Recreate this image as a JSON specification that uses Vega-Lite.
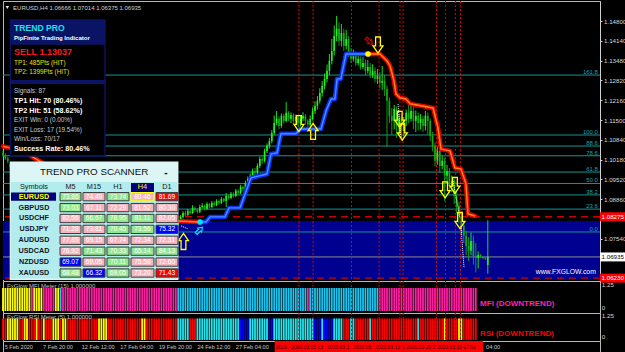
{
"$schema": "https://vega.github.io/schema/vega-lite/v6.json",
"background": "#000000",
"padding": 0,
"spacing": 0,
"bounds": "flush",
"config": {
 "view": {"stroke": "#b8b8b8", "strokeWidth": 1},
 "axis": {"labelFont": "Liberation Sans", "labelFontSize": 6.2, "labelColor": "#d8d8d8", "domainColor": "#d0d0d0", "tickColor": "#d0d0d0", "tickSize": 2, "labelPadding": 1.5, "grid": false},
 "text": {"font": "Liberation Sans"},
 "legend": {"disable": true}
},
"resolve": {"scale": {"color": "independent"}},
"datasets": {
 "bars": [
{"t":0,"o":1.104,"h":1.1048,"l":1.1026,"c":1.1032,"m":"Y","r":"R"},
{"t":1,"o":1.1032,"h":1.1038,"l":1.1016,"c":1.1022,"m":"Y","r":"R"},
{"t":2,"o":1.1022,"h":1.1027,"l":1.1006,"c":1.1012,"m":"Y","r":"Y"},
{"t":3,"o":1.1,"h":1.1004,"l":1.0988,"c":1.0995,"m":"Y","r":"Y"},
{"t":4,"o":1.0995,"h":1.1001,"l":1.0984,"c":1.099,"m":"Y","r":"Y"},
{"t":5,"o":1.099,"h":1.1002,"l":1.0985,"c":1.0995,"m":"Y","r":"Y"},
{"t":6,"o":1.0995,"h":1.1004,"l":1.099,"c":1.1,"m":"Y","r":"Y"},
{"t":7,"o":1.1,"h":1.1003,"l":1.0984,"c":1.099,"m":"Y","r":"R"},
{"t":8,"o":1.099,"h":1.0995,"l":1.0979,"c":1.0985,"m":"Y","r":"R"},
{"t":9,"o":1.0985,"h":1.099,"l":1.0972,"c":1.0978,"m":"Y","r":"Y"},
{"t":10,"o":1.0978,"h":1.0992,"l":1.0973,"c":1.0986,"m":"Y","r":"Y"},
{"t":11,"o":1.0986,"h":1.099,"l":1.097,"c":1.0975,"m":"Y","r":"R"},
{"t":12,"o":1.0975,"h":1.098,"l":1.0962,"c":1.0968,"m":"M","r":"R"},
{"t":13,"o":1.0968,"h":1.0978,"l":1.0963,"c":1.0972,"m":"Y","r":"R"},
{"t":14,"o":1.0972,"h":1.0976,"l":1.0955,"c":1.096,"m":"Y","r":"Y"},
{"t":15,"o":1.096,"h":1.0965,"l":1.0949,"c":1.0955,"m":"Y","r":"R"},
{"t":16,"o":1.0955,"h":1.096,"l":1.0942,"c":1.0948,"m":"Y","r":"R"},
{"t":17,"o":1.0948,"h":1.0962,"l":1.0944,"c":1.0957,"m":"M","r":"Y"},
{"t":18,"o":1.0957,"h":1.096,"l":1.094,"c":1.0945,"m":"M","r":"R"},
{"t":19,"o":1.0945,"h":1.095,"l":1.0932,"c":1.0938,"m":"M","r":"R"},
{"t":20,"o":1.0938,"h":1.0949,"l":1.0934,"c":1.0944,"m":"M","r":"R"},
{"t":21,"o":1.0944,"h":1.0948,"l":1.0927,"c":1.0932,"m":"M","r":"Y"},
{"t":22,"o":1.0932,"h":1.0937,"l":1.092,"c":1.0925,"m":"Y","r":"Y"},
{"t":23,"o":1.0925,"h":1.0935,"l":1.0921,"c":1.093,"m":"Y","r":"Y"},
{"t":24,"o":1.093,"h":1.0933,"l":1.0913,"c":1.0918,"m":"C","r":"R"},
{"t":25,"o":1.0918,"h":1.0922,"l":1.0906,"c":1.0912,"m":"M","r":"Y"},
{"t":26,"o":1.0912,"h":1.0925,"l":1.0908,"c":1.092,"m":"M","r":"Y"},
{"t":27,"o":1.092,"h":1.0923,"l":1.09,"c":1.0905,"m":"M","r":"R"},
{"t":28,"o":1.0905,"h":1.091,"l":1.0893,"c":1.0898,"m":"M","r":"R"},
{"t":29,"o":1.0898,"h":1.0909,"l":1.0894,"c":1.0904,"m":"M","r":"R"},
{"t":30,"o":1.0904,"h":1.0907,"l":1.0885,"c":1.089,"m":"M","r":"R"},
{"t":31,"o":1.089,"h":1.0895,"l":1.0879,"c":1.0884,"m":"M","r":"R"},
{"t":32,"o":1.0884,"h":1.0897,"l":1.088,"c":1.0892,"m":"M","r":"R"},
{"t":33,"o":1.0892,"h":1.0895,"l":1.0875,"c":1.088,"m":"M","r":"R"},
{"t":34,"o":1.088,"h":1.0885,"l":1.0869,"c":1.0874,"m":"M","r":"R"},
{"t":35,"o":1.0874,"h":1.0883,"l":1.087,"c":1.0878,"m":"M","r":"R"},
{"t":36,"o":1.0878,"h":1.0881,"l":1.0861,"c":1.0866,"m":"M","r":"R"},
{"t":37,"o":1.0866,"h":1.0877,"l":1.0862,"c":1.0872,"m":"M","r":"R"},
{"t":38,"o":1.0872,"h":1.0875,"l":1.0855,"c":1.086,"m":"M","r":"R"},
{"t":39,"o":1.086,"h":1.0865,"l":1.085,"c":1.0855,"m":"M","r":"R"},
{"t":40,"o":1.0855,"h":1.0867,"l":1.0851,"c":1.0862,"m":"M","r":"Y"},
{"t":41,"o":1.0862,"h":1.0865,"l":1.0845,"c":1.085,"m":"M","r":"Y"},
{"t":42,"o":1.085,"h":1.0855,"l":1.0841,"c":1.0846,"m":"M","r":"Y"},
{"t":43,"o":1.0846,"h":1.0857,"l":1.0842,"c":1.0852,"m":"M","r":"Y"},
{"t":44,"o":1.0852,"h":1.0855,"l":1.0837,"c":1.0842,"m":"M","r":"R"},
{"t":45,"o":1.0842,"h":1.0847,"l":1.0831,"c":1.0836,"m":"M","r":"R"},
{"t":46,"o":1.0836,"h":1.0849,"l":1.0832,"c":1.0844,"m":"M","r":"R"},
{"t":47,"o":1.0844,"h":1.0847,"l":1.0825,"c":1.083,"m":"M","r":"R"},
{"t":48,"o":1.083,"h":1.0843,"l":1.0826,"c":1.0838,"m":"M","r":"R"},
{"t":49,"o":1.0838,"h":1.0841,"l":1.0821,"c":1.0826,"m":"M","r":"R"},
{"t":50,"o":1.0826,"h":1.0839,"l":1.0822,"c":1.0834,"m":"M","r":"R"},
{"t":51,"o":1.0834,"h":1.0837,"l":1.0817,"c":1.0822,"m":"M","r":"R"},
{"t":52,"o":1.0822,"h":1.0827,"l":1.0811,"c":1.0816,"m":"M","r":"R"},
{"t":53,"o":1.0816,"h":1.0829,"l":1.0812,"c":1.0824,"m":"M","r":"R"},
{"t":54,"o":1.0824,"h":1.0827,"l":1.0807,"c":1.0812,"m":"M","r":"R"},
{"t":55,"o":1.0812,"h":1.0817,"l":1.0801,"c":1.0806,"m":"M","r":"R"},
{"t":56,"o":1.0806,"h":1.0819,"l":1.0802,"c":1.0814,"m":"M","r":"R"},
{"t":57,"o":1.0814,"h":1.0817,"l":1.0795,"c":1.08,"m":"M","r":"R"},
{"t":58,"o":1.08,"h":1.0813,"l":1.0796,"c":1.0808,"m":"M","r":"Y"},
{"t":59,"o":1.0808,"h":1.0811,"l":1.079,"c":1.0795,"m":"M","r":"Y"},
{"t":60,"o":1.0795,"h":1.08,"l":1.0785,"c":1.079,"m":"M","r":"R"},
{"t":61,"o":1.079,"h":1.0803,"l":1.0786,"c":1.0798,"m":"M","r":"R"},
{"t":62,"o":1.0798,"h":1.0801,"l":1.0781,"c":1.0786,"m":"M","r":"R"},
{"t":63,"o":1.0786,"h":1.0797,"l":1.0782,"c":1.0792,"m":"M","r":"R"},
{"t":64,"o":1.0792,"h":1.0795,"l":1.0778,"c":1.0782,"m":"M","r":"R"},
{"t":65,"o":1.0782,"h":1.0793,"l":1.0779,"c":1.0788,"m":"M","r":"R"},
{"t":66,"o":1.0788,"h":1.0791,"l":1.0777,"c":1.078,"m":"M","r":"R"},
{"t":67,"o":1.078,"h":1.0795,"l":1.0778,"c":1.079,"m":"M","r":"R"},
{"t":68,"o":1.079,"h":1.0801,"l":1.0786,"c":1.0796,"m":"M","r":"R"},
{"t":69,"o":1.0796,"h":1.0799,"l":1.0784,"c":1.0788,"m":"M","r":"R"},
{"t":70,"o":1.0788,"h":1.0805,"l":1.0785,"c":1.08,"m":"M","r":"R"},
{"t":71,"o":1.08,"h":1.0813,"l":1.0797,"c":1.0808,"m":"M","r":"R"},
{"t":72,"o":1.0808,"h":1.0811,"l":1.0798,"c":1.0802,"m":"M","r":"R"},
{"t":73,"o":1.0802,"h":1.0819,"l":1.0799,"c":1.0815,"m":"C","r":"C"},
{"t":74,"o":1.0815,"h":1.0833,"l":1.0811,"c":1.0827,"m":"C","r":"C"},
{"t":75,"o":1.0827,"h":1.0846,"l":1.0822,"c":1.084,"m":"C","r":"C"},
{"t":76,"o":1.084,"h":1.0848,"l":1.0829,"c":1.0834,"m":"C","r":"C"},
{"t":77,"o":1.0834,"h":1.0853,"l":1.083,"c":1.0847,"m":"C","r":"C"},
{"t":78,"o":1.0847,"h":1.0851,"l":1.0835,"c":1.084,"m":"C","r":"R"},
{"t":79,"o":1.084,"h":1.0866,"l":1.0837,"c":1.0857,"m":"C","r":"R"},
{"t":80,"o":1.0857,"h":1.0862,"l":1.0844,"c":1.085,"m":"C","r":"R"},
{"t":81,"o":1.085,"h":1.0856,"l":1.0838,"c":1.0844,"m":"C","r":"C"},
{"t":82,"o":1.0844,"h":1.0868,"l":1.084,"c":1.086,"m":"C","r":"C"},
{"t":83,"o":1.086,"h":1.0872,"l":1.0855,"c":1.0864,"m":"C","r":"C"},
{"t":84,"o":1.0864,"h":1.0868,"l":1.0849,"c":1.0854,"m":"C","r":"C"},
{"t":85,"o":1.0854,"h":1.0876,"l":1.085,"c":1.087,"m":"C","r":"C"},
{"t":86,"o":1.087,"h":1.0874,"l":1.0855,"c":1.086,"m":"C","r":"C"},
{"t":87,"o":1.086,"h":1.088,"l":1.0856,"c":1.0874,"m":"C","r":"C"},
{"t":88,"o":1.0874,"h":1.0879,"l":1.0862,"c":1.0867,"m":"C","r":"C"},
{"t":89,"o":1.0867,"h":1.0886,"l":1.0863,"c":1.088,"m":"C","r":"C"},
{"t":90,"o":1.088,"h":1.0885,"l":1.0868,"c":1.0874,"m":"C","r":"C"},
{"t":91,"o":1.0874,"h":1.0893,"l":1.087,"c":1.0887,"m":"C","r":"C"},
{"t":92,"o":1.0887,"h":1.0891,"l":1.0875,"c":1.088,"m":"C","r":"C"},
{"t":93,"o":1.088,"h":1.0907,"l":1.086,"c":1.0897,"m":"C","r":"C"},
{"t":94,"o":1.0897,"h":1.0902,"l":1.0884,"c":1.089,"m":"C","r":"C"},
{"t":95,"o":1.089,"h":1.091,"l":1.0886,"c":1.0904,"m":"C","r":"C"},
{"t":96,"o":1.0904,"h":1.0909,"l":1.0891,"c":1.0897,"m":"C","r":"C"},
{"t":97,"o":1.0897,"h":1.092,"l":1.0893,"c":1.0914,"m":"C","r":"C"},
{"t":98,"o":1.0914,"h":1.0919,"l":1.09,"c":1.0907,"m":"C","r":"C"},
{"t":99,"o":1.0907,"h":1.0934,"l":1.0903,"c":1.0927,"m":"C","r":"B"},
{"t":100,"o":1.0927,"h":1.0932,"l":1.0912,"c":1.092,"m":"C","r":"B"},
{"t":101,"o":1.092,"h":1.0948,"l":1.0916,"c":1.094,"m":"C","r":"B"},
{"t":102,"o":1.094,"h":1.0962,"l":1.0934,"c":1.0954,"m":"C","r":"B"},
{"t":103,"o":1.0954,"h":1.0972,"l":1.0948,"c":1.0964,"m":"C","r":"C"},
{"t":104,"o":1.0964,"h":1.0988,"l":1.0958,"c":1.098,"m":"C","r":"C"},
{"t":105,"o":1.098,"h":1.099,"l":1.0966,"c":1.0974,"m":"C","r":"C"},
{"t":106,"o":1.0974,"h":1.1005,"l":1.097,"c":1.0997,"m":"C","r":"C"},
{"t":107,"o":1.0997,"h":1.1028,"l":1.099,"c":1.102,"m":"C","r":"C"},
{"t":108,"o":1.102,"h":1.103,"l":1.1004,"c":1.1014,"m":"C","r":"C"},
{"t":109,"o":1.1014,"h":1.1055,"l":1.1008,"c":1.1047,"m":"C","r":"C"},
{"t":110,"o":1.1047,"h":1.1072,"l":1.104,"c":1.1064,"m":"C","r":"C"},
{"t":111,"o":1.1064,"h":1.109,"l":1.1055,"c":1.108,"m":"C","r":"B"},
{"t":112,"o":1.108,"h":1.1116,"l":1.1072,"c":1.1107,"m":"C","r":"B"},
{"t":113,"o":1.1107,"h":1.1165,"l":1.11,"c":1.114,"m":"C","r":"C"},
{"t":114,"o":1.114,"h":1.118,"l":1.1132,"c":1.1154,"m":"C","r":"C"},
{"t":115,"o":1.1154,"h":1.1162,"l":1.112,"c":1.113,"m":"C","r":"C"},
{"t":116,"o":1.113,"h":1.1172,"l":1.1124,"c":1.1164,"m":"C","r":"C"},
{"t":117,"o":1.1164,"h":1.117,"l":1.1138,"c":1.1147,"m":"C","r":"C"},
{"t":118,"o":1.1147,"h":1.121,"l":1.1142,"c":1.1174,"m":"C","r":"C"},
{"t":119,"o":1.1174,"h":1.118,"l":1.1146,"c":1.1154,"m":"C","r":"C"},
{"t":120,"o":1.1154,"h":1.1175,"l":1.114,"c":1.1167,"m":"C","r":"C"},
{"t":121,"o":1.1167,"h":1.1172,"l":1.1137,"c":1.1147,"m":"C","r":"C"},
{"t":122,"o":1.1147,"h":1.1168,"l":1.1132,"c":1.116,"m":"C","r":"C"},
{"t":123,"o":1.116,"h":1.1165,"l":1.1125,"c":1.114,"m":"C","r":"C"},
{"t":124,"o":1.114,"h":1.1164,"l":1.1128,"c":1.1154,"m":"C","r":"C"},
{"t":125,"o":1.1154,"h":1.1176,"l":1.1146,"c":1.1164,"m":"C","r":"C"},
{"t":126,"o":1.1164,"h":1.117,"l":1.1134,"c":1.1147,"m":"C","r":"C"},
{"t":127,"o":1.1147,"h":1.1152,"l":1.111,"c":1.1134,"m":"M","r":"C"},
{"t":128,"o":1.1134,"h":1.1165,"l":1.1126,"c":1.1154,"m":"C","r":"C"},
{"t":129,"o":1.1154,"h":1.1192,"l":1.1148,"c":1.118,"m":"C","r":"C"},
{"t":130,"o":1.118,"h":1.1212,"l":1.117,"c":1.1197,"m":"C","r":"B"},
{"t":131,"o":1.1197,"h":1.123,"l":1.1185,"c":1.1214,"m":"C","r":"B"},
{"t":132,"o":1.1214,"h":1.1256,"l":1.1205,"c":1.124,"m":"C","r":"B"},
{"t":133,"o":1.124,"h":1.128,"l":1.1228,"c":1.1264,"m":"C","r":"C"},
{"t":134,"o":1.1264,"h":1.1305,"l":1.1252,"c":1.1287,"m":"C","r":"B"},
{"t":135,"o":1.1287,"h":1.1335,"l":1.1275,"c":1.1314,"m":"C","r":"B"},
{"t":136,"o":1.1314,"h":1.137,"l":1.13,"c":1.1347,"m":"C","r":"B"},
{"t":137,"o":1.1347,"h":1.142,"l":1.1335,"c":1.138,"m":"C","r":"B"},
{"t":138,"o":1.138,"h":1.1465,"l":1.1365,"c":1.143,"m":"C","r":"C"},
{"t":139,"o":1.143,"h":1.1497,"l":1.1412,"c":1.1454,"m":"C","r":"C"},
{"t":140,"o":1.1454,"h":1.1475,"l":1.1398,"c":1.1414,"m":"C","r":"C"},
{"t":141,"o":1.1414,"h":1.147,"l":1.1395,"c":1.144,"m":"C","r":"C"},
{"t":142,"o":1.144,"h":1.1455,"l":1.138,"c":1.1397,"m":"C","r":"R"},
{"t":143,"o":1.1397,"h":1.145,"l":1.1385,"c":1.142,"m":"C","r":"R"},
{"t":144,"o":1.142,"h":1.143,"l":1.136,"c":1.1374,"m":"C","r":"R"},
{"t":145,"o":1.1374,"h":1.139,"l":1.134,"c":1.1354,"m":"C","r":"C"},
{"t":146,"o":1.1354,"h":1.1385,"l":1.1345,"c":1.1364,"m":"C","r":"C"},
{"t":147,"o":1.1364,"h":1.1378,"l":1.133,"c":1.134,"m":"C","r":"R"},
{"t":148,"o":1.134,"h":1.1372,"l":1.1332,"c":1.1354,"m":"C","r":"R"},
{"t":149,"o":1.1354,"h":1.1362,"l":1.1318,"c":1.1327,"m":"C","r":"R"},
{"t":150,"o":1.1327,"h":1.136,"l":1.132,"c":1.134,"m":"C","r":"R"},
{"t":151,"o":1.134,"h":1.1352,"l":1.13,"c":1.1314,"m":"C","r":"R"},
{"t":152,"o":1.1314,"h":1.135,"l":1.1305,"c":1.1327,"m":"C","r":"R"},
{"t":153,"o":1.1327,"h":1.134,"l":1.129,"c":1.13,"m":"C","r":"C"},
{"t":154,"o":1.13,"h":1.1336,"l":1.129,"c":1.1314,"m":"C","r":"R"},
{"t":155,"o":1.1314,"h":1.1325,"l":1.1275,"c":1.1287,"m":"C","r":"R"},
{"t":156,"o":1.1287,"h":1.132,"l":1.127,"c":1.1297,"m":"C","r":"R"},
{"t":157,"o":1.1297,"h":1.131,"l":1.1255,"c":1.1274,"m":"M","r":"R"},
{"t":158,"o":1.1274,"h":1.133,"l":1.125,"c":1.128,"m":"M","r":"R"},
{"t":159,"o":1.128,"h":1.13,"l":1.123,"c":1.1254,"m":"M","r":"R"},
{"t":160,"o":1.1254,"h":1.1265,"l":1.106,"c":1.1214,"m":"M","r":"R"},
{"t":161,"o":1.1214,"h":1.1225,"l":1.114,"c":1.1164,"m":"M","r":"R"},
{"t":162,"o":1.1164,"h":1.119,"l":1.11,"c":1.1147,"m":"M","r":"R"},
{"t":163,"o":1.1147,"h":1.12,"l":1.112,"c":1.1187,"m":"M","r":"R"},
{"t":164,"o":1.1187,"h":1.1195,"l":1.109,"c":1.113,"m":"M","r":"R"},
{"t":165,"o":1.113,"h":1.117,"l":1.11,"c":1.1154,"m":"M","r":"R"},
{"t":166,"o":1.1154,"h":1.1165,"l":1.108,"c":1.1114,"m":"M","r":"R"},
{"t":167,"o":1.1114,"h":1.116,"l":1.1095,"c":1.1147,"m":"M","r":"R"},
{"t":168,"o":1.1147,"h":1.1185,"l":1.113,"c":1.1174,"m":"M","r":"R"},
{"t":169,"o":1.1174,"h":1.12,"l":1.114,"c":1.1154,"m":"M","r":"R"},
{"t":170,"o":1.1154,"h":1.1207,"l":1.1145,"c":1.118,"m":"M","r":"R"},
{"t":171,"o":1.118,"h":1.1195,"l":1.112,"c":1.1147,"m":"M","r":"R"},
{"t":172,"o":1.1147,"h":1.1182,"l":1.111,"c":1.1164,"m":"M","r":"R"},
{"t":173,"o":1.1164,"h":1.1175,"l":1.1115,"c":1.114,"m":"M","r":"C"},
{"t":174,"o":1.114,"h":1.117,"l":1.1118,"c":1.1154,"m":"M","r":"R"},
{"t":175,"o":1.1154,"h":1.1165,"l":1.111,"c":1.113,"m":"M","r":"R"},
{"t":176,"o":1.113,"h":1.118,"l":1.1115,"c":1.1164,"m":"M","r":"R"},
{"t":177,"o":1.1164,"h":1.1175,"l":1.11,"c":1.1147,"m":"M","r":"R"},
{"t":178,"o":1.1147,"h":1.1155,"l":1.108,"c":1.1097,"m":"M","r":"R"},
{"t":179,"o":1.1097,"h":1.111,"l":1.1045,"c":1.1064,"m":"M","r":"R"},
{"t":180,"o":1.1064,"h":1.1075,"l":1.0995,"c":1.1014,"m":"M","r":"R"},
{"t":181,"o":1.1014,"h":1.106,"l":1.1,"c":1.1047,"m":"M","r":"R"},
{"t":182,"o":1.1047,"h":1.1055,"l":1.0975,"c":1.0997,"m":"M","r":"R"},
{"t":183,"o":1.0997,"h":1.103,"l":1.0985,"c":1.1014,"m":"M","r":"R"},
{"t":184,"o":1.1014,"h":1.1025,"l":1.088,"c":1.0964,"m":"M","r":"Y"},
{"t":185,"o":1.0964,"h":1.1,"l":1.094,"c":1.098,"m":"M","r":"R"},
{"t":186,"o":1.098,"h":1.099,"l":1.0905,"c":1.093,"m":"M","r":"R"},
{"t":187,"o":1.093,"h":1.0965,"l":1.091,"c":1.0947,"m":"M","r":"R"},
{"t":188,"o":1.0947,"h":1.096,"l":1.087,"c":1.0897,"m":"M","r":"R"},
{"t":189,"o":1.0897,"h":1.091,"l":1.084,"c":1.0864,"m":"M","r":"R"},
{"t":190,"o":1.0864,"h":1.0878,"l":1.0805,"c":1.083,"m":"M","r":"Y"},
{"t":191,"o":1.083,"h":1.084,"l":1.077,"c":1.0797,"m":"M","r":"Y"},
{"t":192,"o":1.0797,"h":1.081,"l":1.074,"c":1.0764,"m":"M","r":"R"},
{"t":193,"o":1.0764,"h":1.078,"l":1.07,"c":1.073,"m":"M","r":"R"},
{"t":194,"o":1.073,"h":1.076,"l":1.068,"c":1.0714,"m":"M","r":"R"},
{"t":195,"o":1.0714,"h":1.0775,"l":1.07,"c":1.0747,"m":"M","r":"R"},
{"t":196,"o":1.0747,"h":1.0765,"l":1.0668,"c":1.0697,"m":"M","r":"R"},
{"t":197,"o":1.0697,"h":1.074,"l":1.0642,"c":1.069,"m":"M","r":"R"},
{"t":198,"o":1.069,"h":1.0712,"l":1.0655,"c":1.07},
{"t":199,"o":1.07,"h":1.0703,"l":1.069,"c":1.0694},
{"t":200,"o":1.0694,"h":1.0696,"l":1.0686,"c":1.069},
{"t":201,"o":1.069,"h":1.0693,"l":1.0684,"c":1.0687},
{"t":202,"o":1.06666,"h":1.0816,"l":1.06375,"c":1.06935}
 ],
 "trend": [
{"t":0,"p":1.1062,"s":"dn","g":"a"},{"t":8,"p":1.1048,"s":"dn","g":"a"},{"t":20,"p":1.099,"s":"dn","g":"a"},{"t":35,"p":1.0935,"s":"dn","g":"a"},{"t":50,"p":1.0885,"s":"dn","g":"a"},{"t":60,"p":1.085,"s":"dn","g":"a"},{"t":66,"p":1.0815,"s":"dn","g":"a"},{"t":82.1,"p":1.081,"s":"dn","g":"a"},
{"t":82.1,"p":1.081,"s":"up","g":"b"},{"t":84.6,"p":1.081,"s":"up","g":"b"},{"t":86.3,"p":1.0827,"s":"up","g":"b"},{"t":92.5,"p":1.0827,"s":"up","g":"b"},{"t":94.2,"p":1.0857,"s":"up","g":"b"},{"t":98.75,"p":1.0857,"s":"up","g":"b"},{"t":103.3,"p":1.0957,"s":"up","g":"b"},{"t":110,"p":1.097,"s":"up","g":"b"},{"t":111.7,"p":1.1037,"s":"up","g":"b"},{"t":114.2,"p":1.104,"s":"up","g":"b"},{"t":115.8,"p":1.1104,"s":"up","g":"b"},{"t":122.1,"p":1.1104,"s":"up","g":"b"},{"t":123.75,"p":1.112,"s":"up","g":"b"},{"t":132.5,"p":1.112,"s":"up","g":"b"},{"t":134.6,"p":1.118,"s":"up","g":"b"},{"t":136.7,"p":1.122,"s":"up","g":"b"},{"t":138.3,"p":1.122,"s":"up","g":"b"},{"t":139.2,"p":1.1287,"s":"up","g":"b"},{"t":140.8,"p":1.1287,"s":"up","g":"b"},{"t":142.9,"p":1.137,"s":"up","g":"b"},{"t":152.1,"p":1.137,"s":"up","g":"b"},
{"t":152.1,"p":1.137,"s":"dn","g":"c"},{"t":157.1,"p":1.137,"s":"dn","g":"c"},{"t":160,"p":1.1347,"s":"dn","g":"c"},{"t":161.3,"p":1.133,"s":"dn","g":"c"},{"t":162.9,"p":1.128,"s":"dn","g":"c"},{"t":163.75,"p":1.1237,"s":"dn","g":"c"},{"t":165.4,"p":1.1224,"s":"dn","g":"c"},{"t":167.9,"p":1.122,"s":"dn","g":"c"},{"t":169.6,"p":1.1204,"s":"dn","g":"c"},{"t":179.2,"p":1.119,"s":"dn","g":"c"},{"t":181.25,"p":1.1124,"s":"dn","g":"c"},{"t":182.5,"p":1.1053,"s":"dn","g":"c"},{"t":186.25,"p":1.1047,"s":"dn","g":"c"},{"t":188.3,"p":1.099,"s":"dn","g":"c"},{"t":190.8,"p":1.0987,"s":"dn","g":"c"},{"t":192.9,"p":1.0937,"s":"dn","g":"c"},{"t":193.75,"p":1.0837,"s":"dn","g":"c"},{"t":196.7,"p":1.083,"s":"dn","g":"c"}
 ],
 "fib": [{"p":1.12998,"lab":"161.8"},{"p":1.11,"lab":"100.0"},{"p":1.10632,"lab":"88.6"},{"p":1.10308,"lab":"78.6"},{"p":1.09765,"lab":"61.8"},{"p":1.09384,"lab":"50.0"},{"p":1.09002,"lab":"38.2"},{"p":1.0853,"lab":"23.6"},{"p":1.07767,"lab":"0.0"}],
 "hl": [{"p":1.08275,"k":"r"},{"p":1.0623,"k":"r"},{"p":1.06935,"k":"g"}],
 "vl": [{"t":123.3},{"t":129.2},{"t":145.2},{"t":156.7},{"t":165.4},{"t":166.7},{"t":180.6},{"t":184.4},{"t":188.5},{"t":190.6}],
 "arrows": [{"t":75.2,"p":1.0745,"dir":"up"},{"t":123.3,"p":1.1138,"dir":"dn"},{"t":129.2,"p":1.1112,"dir":"up"},{"t":156.25,"p":1.14,"dir":"dn"},{"t":165.3,"p":1.1152,"dir":"dn"},{"t":166.4,"p":1.111,"dir":"dn"},{"t":184.2,"p":1.0917,"dir":"dn"},{"t":188.3,"p":1.0932,"dir":"dn"},{"t":190.4,"p":1.0815,"dir":"dn"}],
 "tl": [{"t":164.6,"p":1.1203,"t2":165.8,"p2":1.109},{"t":187.5,"p":1.0947,"t2":190.4,"p2":1.0823},{"t":190.8,"p":1.0797,"t2":192.1,"p2":1.0657},{"t":74.2,"p":1.0797,"t2":77.1,"p2":1.0787}],
 "boxes": [
{"k":"nav","t0":2.8,"t1":42.8,"p0":1.10277,"p1":1.14857},
{"k":"blk","t0":3.4,"t1":42.2,"p0":1.1033,"p1":1.1401},
{"k":"nav","t0":2.8,"t1":42.8,"p0":1.127,"p1":1.12834},
{"k":"scf","t0":2.8,"t1":73.1,"p0":1.06167,"p1":1.10117},
{"k":"sct","t0":3.3,"t1":72.7,"p0":1.06217,"p1":1.09434},
{"k":"nav2","t0":3.33,"t1":22.1,"p0":1.08806,"p1":1.09082},
{"k":"nav2","t0":53.33,"t1":62.9,"p0":1.091,"p1":1.094}
 ],
 "tp": [{"k":"h1","p":1.14577,"txt":"TREND PRO"},{"k":"h2","p":1.14244,"txt":"PipFinite Trading Indicator"},{"k":"sell","p":1.13777,"txt":"SELL 1.13037"},{"k":"tp","p":1.1341,"txt":"TP1: 485Pts (HIT)"},{"k":"tp","p":1.131,"txt":"TP2: 1399Pts (HIT)"},{"k":"st","p":1.12467,"txt":"Signals: 87"},{"k":"hit","p":1.12134,"txt":"TP1 Hit: 70 (80.46%)"},{"k":"hit","p":1.118,"txt":"TP2 Hit: 51 (58.62%)"},{"k":"st","p":1.1149,"txt":"EXIT Win: 0 (0.00%)"},{"k":"st","p":1.11177,"txt":"EXIT Loss: 17 (19.54%)"},{"k":"st","p":1.10877,"txt":"Win/Loss: 70/17"},{"k":"hit","p":1.10524,"txt":"Success Rate: 80.46%"}],
 "cols": [{"tf":"M5","tc":28.1},{"tf":"M15","tc":37.9},{"tf":"H1","tc":47.9},{"tf":"H4","tc":58.1},{"tf":"D1","tc":68.3}],
 "syms": [{"sym":"EURUSD","pc":1.08944},{"sym":"GBPUSD","pc":1.0858},{"sym":"USDCHF","pc":1.08217},{"sym":"USDJPY","pc":1.07854},{"sym":"AUDUSD","pc":1.0749},{"sym":"USDCAD","pc":1.07127},{"sym":"NZDUSD","pc":1.06764},{"sym":"XAUUSD","pc":1.064}],
 "scan": [
{"sym":"EURUSD","tf":"M5","v":"73.86","k":"g","t0":23.75,"t1":32.5,"tc":28.1,"p0":1.09082,"p1":1.08806,"pc":1.08944},
{"sym":"EURUSD","tf":"M15","v":"74.49","k":"p","t0":33.33,"t1":42.5,"tc":37.9,"p0":1.09082,"p1":1.08806,"pc":1.08944},
{"sym":"EURUSD","tf":"H1","v":"73.74","k":"g","t0":43.33,"t1":52.5,"tc":47.9,"p0":1.09082,"p1":1.08806,"pc":1.08944},
{"sym":"EURUSD","tf":"H4","v":"80.46","k":"p","t0":53.33,"t1":62.9,"tc":58.1,"p0":1.09082,"p1":1.08806,"pc":1.08944},
{"sym":"EURUSD","tf":"D1","v":"81.69","k":"R","t0":63.75,"t1":72.9,"tc":68.3,"p0":1.09082,"p1":1.08806,"pc":1.08944},
{"sym":"GBPUSD","tf":"M5","v":"73.03","k":"g","t0":23.75,"t1":32.5,"tc":28.1,"p0":1.08718,"p1":1.08442,"pc":1.0858},
{"sym":"GBPUSD","tf":"M15","v":"67.11","k":"p","t0":33.33,"t1":42.5,"tc":37.9,"p0":1.08718,"p1":1.08442,"pc":1.0858},
{"sym":"GBPUSD","tf":"H1","v":"72.29","k":"p","t0":43.33,"t1":52.5,"tc":47.9,"p0":1.08718,"p1":1.08442,"pc":1.0858},
{"sym":"GBPUSD","tf":"H4","v":"81.52","k":"p","t0":53.33,"t1":62.9,"tc":58.1,"p0":1.08718,"p1":1.08442,"pc":1.0858},
{"sym":"GBPUSD","tf":"D1","v":"80.30","k":"p","t0":63.75,"t1":72.9,"tc":68.3,"p0":1.08718,"p1":1.08442,"pc":1.0858},
{"sym":"USDCHF","tf":"M5","v":"82.56","k":"p","t0":23.75,"t1":32.5,"tc":28.1,"p0":1.08355,"p1":1.08079,"pc":1.08217},
{"sym":"USDCHF","tf":"M15","v":"66.67","k":"g","t0":33.33,"t1":42.5,"tc":37.9,"p0":1.08355,"p1":1.08079,"pc":1.08217},
{"sym":"USDCHF","tf":"H1","v":"78.95","k":"g","t0":43.33,"t1":52.5,"tc":47.9,"p0":1.08355,"p1":1.08079,"pc":1.08217},
{"sym":"USDCHF","tf":"H4","v":"81.11","k":"g","t0":53.33,"t1":62.9,"tc":58.1,"p0":1.08355,"p1":1.08079,"pc":1.08217},
{"sym":"USDCHF","tf":"D1","v":"82.05","k":"p","t0":63.75,"t1":72.9,"tc":68.3,"p0":1.08355,"p1":1.08079,"pc":1.08217},
{"sym":"USDJPY","tf":"M5","v":"71.28","k":"p","t0":23.75,"t1":32.5,"tc":28.1,"p0":1.07992,"p1":1.07716,"pc":1.07854},
{"sym":"USDJPY","tf":"M15","v":"73.81","k":"p","t0":33.33,"t1":42.5,"tc":37.9,"p0":1.07992,"p1":1.07716,"pc":1.07854},
{"sym":"USDJPY","tf":"H1","v":"70.45","k":"g","t0":43.33,"t1":52.5,"tc":47.9,"p0":1.07992,"p1":1.07716,"pc":1.07854},
{"sym":"USDJPY","tf":"H4","v":"73.56","k":"g","t0":53.33,"t1":62.9,"tc":58.1,"p0":1.07992,"p1":1.07716,"pc":1.07854},
{"sym":"USDJPY","tf":"D1","v":"75.32","k":"B","t0":63.75,"t1":72.9,"tc":68.3,"p0":1.07992,"p1":1.07716,"pc":1.07854},
{"sym":"AUDUSD","tf":"M5","v":"77.89","k":"p","t0":23.75,"t1":32.5,"tc":28.1,"p0":1.07628,"p1":1.07352,"pc":1.0749},
{"sym":"AUDUSD","tf":"M15","v":"69.15","k":"p","t0":33.33,"t1":42.5,"tc":37.9,"p0":1.07628,"p1":1.07352,"pc":1.0749},
{"sym":"AUDUSD","tf":"H1","v":"67.74","k":"p","t0":43.33,"t1":52.5,"tc":47.9,"p0":1.07628,"p1":1.07352,"pc":1.0749},
{"sym":"AUDUSD","tf":"H4","v":"72.34","k":"p","t0":53.33,"t1":62.9,"tc":58.1,"p0":1.07628,"p1":1.07352,"pc":1.0749},
{"sym":"AUDUSD","tf":"D1","v":"72.31","k":"p","t0":63.75,"t1":72.9,"tc":68.3,"p0":1.07628,"p1":1.07352,"pc":1.0749},
{"sym":"USDCAD","tf":"M5","v":"76.92","k":"p","t0":23.75,"t1":32.5,"tc":28.1,"p0":1.07265,"p1":1.06989,"pc":1.07127},
{"sym":"USDCAD","tf":"M15","v":"71.43","k":"g","t0":33.33,"t1":42.5,"tc":37.9,"p0":1.07265,"p1":1.06989,"pc":1.07127},
{"sym":"USDCAD","tf":"H1","v":"70.33","k":"g","t0":43.33,"t1":52.5,"tc":47.9,"p0":1.07265,"p1":1.06989,"pc":1.07127},
{"sym":"USDCAD","tf":"H4","v":"65.14","k":"g","t0":53.33,"t1":62.9,"tc":58.1,"p0":1.07265,"p1":1.06989,"pc":1.07127},
{"sym":"USDCAD","tf":"D1","v":"84.13","k":"g","t0":63.75,"t1":72.9,"tc":68.3,"p0":1.07265,"p1":1.06989,"pc":1.07127},
{"sym":"NZDUSD","tf":"M5","v":"69.07","k":"B","t0":23.75,"t1":32.5,"tc":28.1,"p0":1.06902,"p1":1.06626,"pc":1.06764},
{"sym":"NZDUSD","tf":"M15","v":"69.05","k":"p","t0":33.33,"t1":42.5,"tc":37.9,"p0":1.06902,"p1":1.06626,"pc":1.06764},
{"sym":"NZDUSD","tf":"H1","v":"70.11","k":"g","t0":43.33,"t1":52.5,"tc":47.9,"p0":1.06902,"p1":1.06626,"pc":1.06764},
{"sym":"NZDUSD","tf":"H4","v":"75.58","k":"p","t0":53.33,"t1":62.9,"tc":58.1,"p0":1.06902,"p1":1.06626,"pc":1.06764},
{"sym":"NZDUSD","tf":"D1","v":"72.60","k":"p","t0":63.75,"t1":72.9,"tc":68.3,"p0":1.06902,"p1":1.06626,"pc":1.06764},
{"sym":"XAUUSD","tf":"M5","v":"68.48","k":"g","t0":23.75,"t1":32.5,"tc":28.1,"p0":1.06538,"p1":1.06262,"pc":1.064},
{"sym":"XAUUSD","tf":"M15","v":"66.32","k":"B","t0":33.33,"t1":42.5,"tc":37.9,"p0":1.06538,"p1":1.06262,"pc":1.064},
{"sym":"XAUUSD","tf":"H1","v":"69.05","k":"g","t0":43.33,"t1":52.5,"tc":47.9,"p0":1.06538,"p1":1.06262,"pc":1.064},
{"sym":"XAUUSD","tf":"H4","v":"73.20","k":"p","t0":53.33,"t1":62.9,"tc":58.1,"p0":1.06538,"p1":1.06262,"pc":1.064},
{"sym":"XAUUSD","tf":"D1","v":"71.43","k":"R","t0":63.75,"t1":72.9,"tc":68.3,"p0":1.06538,"p1":1.06262,"pc":1.064}
 ],
 "pbox": [{"p":1.08275,"txt":"1.08275","k":"r"},{"p":1.06935,"txt":"1.06935","k":"w"},{"p":1.0623,"txt":"1.06230","k":"r"}],
 "tx": [{"t":0.7,"txt":"5 Feb 2020"},{"t":16.7,"txt":"7 Feb 20:00"},{"t":32.8,"txt":"12 Feb 12:00"},{"t":48.9,"txt":"17 Feb 04:00"},{"t":65,"txt":"19 Feb 20:00"},{"t":81,"txt":"24 Feb 12:00"},{"t":97,"txt":"27 Feb 04:00"},{"t":201.3,"txt":"04:00"}],
 "txr": [{"t":113.75,"txt":"2020."},{"t":120,"txt":"2020.03.05 13"},{"t":135,"txt":"2020.03.1"},{"t":145.8,"txt":"2020.03"},{"t":155,"txt":"2020.03.13"},{"t":166.25,"txt":"1 2020.03 20 2"},{"t":180.8,"txt":"2020.03.19 17:00"}]
},
"vconcat": [
 {
  "width": 597, "height": 280,
  "resolve": {"axis": {"x": "independent", "y": "independent"}},
  "layer": [
   {"data": {"values": [{"p0": 1.06167, "p1": 1.08134}]}, "mark": {"type": "rect", "color": "#000090"},
    "encoding": {"y": {"field": "p0", "type": "quantitative", "axis": null}, "y2": {"field": "p1"}}},
   {"data": {"name": "fib"}, "mark": {"type": "rule", "color": "#189494", "strokeWidth": 1},
    "encoding": {"y": {"field": "p", "type": "quantitative", "scale": {"domain": [1.06133, 1.15467], "nice": false, "zero": false},
      "axis": {"orient": "right", "title": null, "values": [1.148, 1.1414, 1.1348, 1.1282, 1.1216, 1.115, 1.1084, 1.1018, 1.0952, 1.0886, 1.0754], "format": ".5f"}}}},
   {"data": {"name": "hl"}, "transform": [{"filter": "datum.k=='g'"}], "mark": {"type": "rule", "color": "#8c8c8c", "strokeWidth": 1},
    "encoding": {"y": {"field": "p", "type": "quantitative", "axis": null}}},
   {"data": {"name": "hl"}, "transform": [{"filter": "datum.k=='r'"}], "mark": {"type": "rule", "color": "#cc0000", "strokeWidth": 1.3, "strokeDash": [7, 5]},
    "encoding": {"y": {"field": "p", "type": "quantitative", "axis": null}}},
   {"data": {"name": "vl"}, "mark": {"type": "rule", "color": "#e00000", "strokeWidth": 1, "strokeDash": [2, 2]},
    "encoding": {"x": {"field": "t", "type": "quantitative", "scale": {"domain": [0, 248.75], "nice": false, "zero": false}, "axis": null}}},
   {"data": {"name": "bars"}, "mark": {"type": "rule", "strokeWidth": 0.9},
    "encoding": {"x": {"field": "t", "type": "quantitative", "axis": null}, "y": {"field": "l", "type": "quantitative", "axis": null}, "y2": {"field": "h"},
     "color": {"condition": {"test": "datum.c>=datum.o", "value": "#22f022"}, "value": "#14a814"}}},
   {"data": {"name": "bars"}, "mark": {"type": "rule", "strokeWidth": 1.7, "strokeCap": "butt"},
    "encoding": {"x": {"field": "t", "type": "quantitative", "axis": null}, "y": {"field": "o", "type": "quantitative", "axis": null}, "y2": {"field": "c"},
     "color": {"condition": {"test": "datum.c>=datum.o", "value": "#22f022"}, "value": "#14a814"}}},
   {"data": {"name": "tl"}, "mark": {"type": "rule", "color": "#ffffff", "strokeWidth": 1, "strokeDash": [1, 1]},
    "encoding": {"x": {"field": "t", "type": "quantitative", "axis": null}, "y": {"field": "p", "type": "quantitative", "axis": null}, "x2": {"field": "t2"}, "y2": {"field": "p2"}}},
   {"data": {"name": "trend"}, "mark": {"type": "line", "strokeWidth": 4.5, "strokeJoin": "round", "strokeCap": "round"},
    "encoding": {"x": {"field": "t", "type": "quantitative", "axis": null}, "y": {"field": "p", "type": "quantitative", "axis": null}, "detail": {"field": "g", "type": "nominal"},
     "color": {"condition": {"test": "datum.s=='dn'", "value": "#e80000"}, "value": "#0a32ff"}}},
   {"data": {"name": "trend"}, "mark": {"type": "line", "strokeWidth": 1.4, "strokeJoin": "round"},
    "encoding": {"x": {"field": "t", "type": "quantitative", "axis": null}, "y": {"field": "p", "type": "quantitative", "axis": null}, "detail": {"field": "g", "type": "nominal"},
     "color": {"condition": {"test": "datum.s=='dn'", "value": "#ff8a1a"}, "value": "#4d8dff"}}},
   {"data": {"values": [{"t": 152.1, "p": 1.137, "k": "y"}, {"t": 82.1, "p": 1.081, "k": "c"}]}, "mark": {"type": "point", "filled": true, "size": 32, "opacity": 1},
    "encoding": {"x": {"field": "t", "type": "quantitative", "axis": null}, "y": {"field": "p", "type": "quantitative", "axis": null},
     "color": {"condition": {"test": "datum.k=='y'", "value": "#ffff00"}, "value": "#00e0ff"}}},
   {"data": {"name": "arrows"}, "mark": {"type": "point", "filled": false, "size": 256, "stroke": "#ffff00", "strokeWidth": 1.3, "opacity": 1},
    "encoding": {"x": {"field": "t", "type": "quantitative", "axis": null}, "y": {"field": "p", "type": "quantitative", "axis": null},
     "shape": {"field": "dir", "type": "nominal", "scale": {"domain": ["dn", "up"], "range": ["M-0.3,-1L0.3,-1L0.3,0.1L0.62,0.1L0,1L-0.62,0.1L-0.3,0.1Z", "M-0.3,1L0.3,1L0.3,-0.1L0.62,-0.1L0,-1L-0.62,-0.1L-0.3,-0.1Z"]}, "legend": null}}},
   {"data": {"values": [{"t": 152.6, "p": 1.1413}]}, "mark": {"type": "point", "filled": false, "size": 80, "stroke": "#d00000", "strokeWidth": 1.2, "angle": -45, "opacity": 1, "shape": "M-0.3,-1L0.3,-1L0.3,0.1L0.62,0.1L0,1L-0.62,0.1L-0.3,0.1Z"},
    "encoding": {"x": {"field": "t", "type": "quantitative", "axis": null}, "y": {"field": "p", "type": "quantitative", "axis": null}}},
   {"data": {"values": [{"t": 81.8, "p": 1.0782}]}, "mark": {"type": "point", "filled": false, "size": 80, "stroke": "#00e0ff", "strokeWidth": 1.2, "angle": 45, "opacity": 1, "shape": "M-0.3,1L0.3,1L0.3,-0.1L0.62,-0.1L0,-1L-0.62,-0.1L-0.3,-0.1Z"},
    "encoding": {"x": {"field": "t", "type": "quantitative", "axis": null}, "y": {"field": "p", "type": "quantitative", "axis": null}}},
   {"data": {"name": "fib"}, "mark": {"type": "text", "align": "right", "baseline": "bottom", "fontSize": 6, "color": "#1fa3a3"},
    "encoding": {"x": {"datum": 247.9, "type": "quantitative", "axis": null}, "y": {"field": "p", "type": "quantitative", "axis": null}, "text": {"field": "lab"}}},
   {"data": {"name": "boxes"}, "mark": {"type": "rect"},
    "encoding": {"x": {"field": "t0", "type": "quantitative", "axis": null}, "x2": {"field": "t1"}, "y": {"field": "p0", "type": "quantitative", "axis": null}, "y2": {"field": "p1"},
     "color": {"field": "k", "type": "nominal", "scale": {"domain": ["nav", "blk", "scf", "sct", "nav2"], "range": ["#0b1464", "#000000", "#dcf6f6", "#b2ecec", "#00007a"]}, "legend": null}}},
   {"data": {"name": "tp"}, "transform": [{"filter": "datum.k=='h1'"}], "mark": {"type": "text", "align": "left", "baseline": "middle", "fontWeight": "bold", "fontSize": 8.6, "color": "#19e3ee"},
    "encoding": {"x": {"datum": 4.6, "type": "quantitative", "axis": null}, "y": {"field": "p", "type": "quantitative", "axis": null}, "text": {"field": "txt"}}},
   {"data": {"name": "tp"}, "transform": [{"filter": "datum.k=='h2'"}], "mark": {"type": "text", "align": "left", "baseline": "middle", "fontWeight": "bold", "fontSize": 6, "color": "#ffffff"},
    "encoding": {"x": {"datum": 4.6, "type": "quantitative", "axis": null}, "y": {"field": "p", "type": "quantitative", "axis": null}, "text": {"field": "txt"}}},
   {"data": {"name": "tp"}, "transform": [{"filter": "datum.k=='sell'"}], "mark": {"type": "text", "align": "left", "baseline": "middle", "fontWeight": "bold", "fontSize": 9, "color": "#ff1a1a"},
    "encoding": {"x": {"datum": 4.6, "type": "quantitative", "axis": null}, "y": {"field": "p", "type": "quantitative", "axis": null}, "text": {"field": "txt"}}},
   {"data": {"name": "tp"}, "transform": [{"filter": "datum.k=='tp'"}], "mark": {"type": "text", "align": "left", "baseline": "middle", "fontSize": 6.4, "color": "#e0e000"},
    "encoding": {"x": {"datum": 4.6, "type": "quantitative", "axis": null}, "y": {"field": "p", "type": "quantitative", "axis": null}, "text": {"field": "txt"}}},
   {"data": {"name": "tp"}, "transform": [{"filter": "datum.k=='st'"}], "mark": {"type": "text", "align": "left", "baseline": "middle", "fontSize": 6.4, "color": "#c8c8c8"},
    "encoding": {"x": {"datum": 4.6, "type": "quantitative", "axis": null}, "y": {"field": "p", "type": "quantitative", "axis": null}, "text": {"field": "txt"}}},
   {"data": {"name": "tp"}, "transform": [{"filter": "datum.k=='hit'"}], "mark": {"type": "text", "align": "left", "baseline": "middle", "fontWeight": "bold", "fontSize": 7.2, "color": "#ffffff"},
    "encoding": {"x": {"datum": 4.6, "type": "quantitative", "axis": null}, "y": {"field": "p", "type": "quantitative", "axis": null}, "text": {"field": "txt"}}},
   {"data": {"name": "scan"}, "mark": {"type": "rect", "strokeWidth": 1},
    "encoding": {"x": {"field": "t0", "type": "quantitative", "axis": null}, "x2": {"field": "t1"}, "y": {"field": "p0", "type": "quantitative", "axis": null}, "y2": {"field": "p1"},
     "fill": {"field": "k", "type": "nominal", "scale": {"domain": ["g", "p", "R", "B"], "range": ["#90e890", "#f7b5c0", "#ff0000", "#0000ff"]}, "legend": null},
     "stroke": {"condition": {"test": "datum.sym=='EURUSD'&&datum.tf=='H4'", "value": "#ffff00"}, "value": "#3c3c3c"}}},
   {"data": {"name": "scan"}, "mark": {"type": "text", "align": "center", "baseline": "middle", "fontSize": 6.6, "color": "#ffffff"},
    "encoding": {"x": {"field": "tc", "type": "quantitative", "axis": null}, "y": {"field": "pc", "type": "quantitative", "axis": null}, "text": {"field": "v"}}},
   {"data": {"name": "cols"}, "mark": {"type": "text", "align": "center", "baseline": "middle", "fontSize": 7.3},
    "encoding": {"x": {"field": "tc", "type": "quantitative", "axis": null}, "y": {"datum": 1.0925, "type": "quantitative", "axis": null}, "text": {"field": "tf"},
     "color": {"condition": {"test": "datum.tf=='H4'", "value": "#ffff00"}, "value": "#1a1a1a"}}},
   {"data": {"values": [{"t": 12.9, "p": 1.0925, "txt": "Symbols"}]}, "mark": {"type": "text", "align": "center", "baseline": "middle", "fontSize": 7.3, "color": "#1a1a1a"},
    "encoding": {"x": {"field": "t", "type": "quantitative", "axis": null}, "y": {"field": "p", "type": "quantitative", "axis": null}, "text": {"field": "txt"}}},
   {"data": {"name": "syms"}, "mark": {"type": "text", "align": "center", "baseline": "middle", "fontSize": 7.2, "fontWeight": "bold"},
    "encoding": {"x": {"datum": 12.9, "type": "quantitative", "axis": null}, "y": {"field": "pc", "type": "quantitative", "axis": null}, "text": {"field": "sym"},
     "color": {"condition": {"test": "datum.sym=='EURUSD'", "value": "#ffff00"}, "value": "#141428"}}},
   {"data": {"values": [{"t": 15.4, "p": 1.09767, "txt": "TREND PRO SCANNER"}]}, "mark": {"type": "text", "align": "left", "baseline": "middle", "fontSize": 9.8, "color": "#111111"},
    "encoding": {"x": {"field": "t", "type": "quantitative", "axis": null}, "y": {"field": "p", "type": "quantitative", "axis": null}, "text": {"field": "txt"}}},
   {"data": {"values": [{"t": 67.9, "p": 1.0974, "txt": "-"}]}, "mark": {"type": "text", "align": "center", "baseline": "middle", "fontSize": 10, "fontWeight": "bold", "color": "#111111"},
    "encoding": {"x": {"field": "t", "type": "quantitative", "axis": null}, "y": {"field": "p", "type": "quantitative", "axis": null}, "text": {"field": "txt"}}},
   {"data": {"values": [{"t": 1.8, "p": 1.1525}]}, "mark": {"type": "point", "shape": "triangle-down", "filled": true, "size": 12, "color": "#e0e0e0", "opacity": 1},
    "encoding": {"x": {"field": "t", "type": "quantitative", "axis": null}, "y": {"field": "p", "type": "quantitative", "axis": null}}},
   {"data": {"values": [{"t": 4.2, "p": 1.1525, "txt": "EURUSD,H4  1.06666 1.07014 1.06375 1.06935"}]}, "mark": {"type": "text", "align": "left", "baseline": "middle", "fontSize": 6, "color": "#d0d0d0"},
    "encoding": {"x": {"field": "t", "type": "quantitative", "axis": null}, "y": {"field": "p", "type": "quantitative", "axis": null}, "text": {"field": "txt"}}},
   {"data": {"values": [{"t": 247, "p": 1.0644, "txt": "www.FXGLOW.com"}]}, "mark": {"type": "text", "align": "right", "baseline": "middle", "fontSize": 6.8, "color": "#ffffff"},
    "encoding": {"x": {"field": "t", "type": "quantitative", "axis": null}, "y": {"field": "p", "type": "quantitative", "axis": null}, "text": {"field": "txt"}}},
   {"data": {"name": "pbox"}, "mark": {"type": "point", "filled": true, "size": 784, "opacity": 1, "shape": "M-1,-0.32L1,-0.32L1,0.32L-1,0.32Z"},
    "encoding": {"x": {"datum": 254.6, "type": "quantitative", "axis": null}, "y": {"field": "p", "type": "quantitative", "axis": null},
     "color": {"condition": {"test": "datum.k=='w'", "value": "#ffffff"}, "value": "#ff0000"}}},
   {"data": {"name": "pbox"}, "mark": {"type": "text", "align": "left", "baseline": "middle", "fontSize": 6.2},
    "encoding": {"x": {"datum": 249.4, "type": "quantitative", "axis": null}, "y": {"field": "p", "type": "quantitative", "axis": null}, "text": {"field": "txt"},
     "color": {"condition": {"test": "datum.k=='w'", "value": "#000000"}, "value": "#ffffff"}}}
  ]
 },
 {
  "width": 597, "height": 32,
  "layer": [
   {"data": {"name": "bars"}, "transform": [{"filter": "isValid(datum.m)"}], "mark": {"type": "rule", "strokeWidth": 1.8, "strokeCap": "butt"},
    "encoding": {"x": {"field": "t", "type": "quantitative", "scale": {"domain": [0, 248.75], "nice": false, "zero": false}, "axis": null},
     "y": {"datum": 1, "type": "quantitative", "axis": null},
     "y2": {"datum": 0},
     "color": {"field": "m", "type": "nominal", "scale": {"domain": ["Y", "M", "C"], "range": ["#ffff00", "#ff1ea6", "#1ac6f2"]}, "legend": null}}},
   {"data": {"name": "vl"}, "mark": {"type": "rule", "color": "#e00000", "strokeWidth": 1, "strokeDash": [2, 2]},
    "encoding": {"x": {"field": "t", "type": "quantitative", "axis": null}}},
   {"data": {"values": [{"t": 1.7, "v": 1.087, "txt": "FxGlow MFI Meter (15) 1.000000"}]}, "mark": {"type": "text", "align": "left", "baseline": "middle", "fontSize": 6, "color": "#c0c0c0"},
    "encoding": {"x": {"field": "t", "type": "quantitative", "axis": null},
     "y": {"field": "v", "type": "quantitative", "scale": {"domain": [-0.087, 1.304], "nice": false, "zero": false}, "axis": null},
     "text": {"field": "txt"}}},
   {"data": {"values": [{"t": 198.8, "v": 0.3, "txt": "MFI (DOWNTREND)"}]}, "mark": {"type": "text", "align": "left", "baseline": "middle", "fontSize": 8, "fontWeight": "bold", "color": "#ff22b4"},
    "encoding": {"x": {"field": "t", "type": "quantitative", "axis": null}, "y": {"field": "v", "type": "quantitative", "axis": null}, "text": {"field": "txt"}}},
   {"data": {"values": [{"t": 249.5, "v": 1.25, "txt": "1.25"}]}, "mark": {"type": "text", "align": "left", "baseline": "top", "fontSize": 6.2, "color": "#d8d8d8"},
    "encoding": {"x": {"field": "t", "type": "quantitative", "axis": null}, "y": {"field": "v", "type": "quantitative", "axis": null}, "text": {"field": "txt"}}},
   {"data": {"values": [{"t": 249.5, "v": 0, "txt": "0"}]}, "mark": {"type": "text", "align": "left", "baseline": "bottom", "fontSize": 6.2, "color": "#d8d8d8"},
    "encoding": {"x": {"field": "t", "type": "quantitative", "axis": null}, "y": {"field": "v", "type": "quantitative", "axis": null}, "text": {"field": "txt"}}}
  ]
 },
 {
  "width": 597, "height": 28,
  "layer": [
   {"data": {"name": "bars"}, "transform": [{"filter": "isValid(datum.r)"}], "mark": {"type": "rule", "strokeWidth": 1.8, "strokeCap": "butt"},
    "encoding": {"x": {"field": "t", "type": "quantitative", "scale": {"domain": [0, 248.75], "nice": false, "zero": false}, "axis": null},
     "y": {"datum": 1, "type": "quantitative", "axis": null},
     "y2": {"datum": 0},
     "color": {"field": "r", "type": "nominal", "scale": {"domain": ["R", "Y", "C", "B"], "range": ["#ff0000", "#ffff00", "#22e6ee", "#0000ff"]}, "legend": null}}},
   {"data": {"name": "vl"}, "mark": {"type": "rule", "color": "#e00000", "strokeWidth": 1, "strokeDash": [2, 2]},
    "encoding": {"x": {"field": "t", "type": "quantitative", "axis": null}}},
   {"data": {"values": [{"t": 1.7, "v": 1.065, "txt": "FxGlow RSI Meter (5) 1.000000"}]}, "mark": {"type": "text", "align": "left", "baseline": "middle", "fontSize": 6, "color": "#c0c0c0"},
    "encoding": {"x": {"field": "t", "type": "quantitative", "axis": null},
     "y": {"field": "v", "type": "quantitative", "scale": {"domain": [-0.045, 1.25], "nice": false, "zero": false}, "axis": null},
     "text": {"field": "txt"}}},
   {"data": {"values": [{"t": 198.8, "v": 0.28, "txt": "RSI (DOWNTREND)"}]}, "mark": {"type": "text", "align": "left", "baseline": "middle", "fontSize": 8, "fontWeight": "bold", "color": "#ff0000"},
    "encoding": {"x": {"field": "t", "type": "quantitative", "axis": null}, "y": {"field": "v", "type": "quantitative", "axis": null}, "text": {"field": "txt"}}},
   {"data": {"values": [{"t": 249.5, "v": 1.25, "txt": "1.25"}]}, "mark": {"type": "text", "align": "left", "baseline": "top", "fontSize": 6.2, "color": "#d8d8d8"},
    "encoding": {"x": {"field": "t", "type": "quantitative", "axis": null}, "y": {"field": "v", "type": "quantitative", "axis": null}, "text": {"field": "txt"}}},
   {"data": {"values": [{"t": 249.5, "v": 0, "txt": "0"}]}, "mark": {"type": "text", "align": "left", "baseline": "bottom", "fontSize": 6.2, "color": "#d8d8d8"},
    "encoding": {"x": {"field": "t", "type": "quantitative", "axis": null}, "y": {"field": "v", "type": "quantitative", "axis": null}, "text": {"field": "txt"}}}
  ]
 },
 {
  "width": 597, "height": 12,
  "layer": [
   {"data": {"name": "tx"}, "mark": {"type": "text", "align": "left", "baseline": "middle", "fontSize": 5.6, "color": "#c8c8c8"},
    "encoding": {"x": {"field": "t", "type": "quantitative", "scale": {"domain": [0, 248.75], "nice": false, "zero": false}, "axis": null}, "text": {"field": "txt"}}},
   {"data": {"values": [{"t0": 113.2, "t1": 200}]}, "mark": {"type": "rect", "color": "#ff0000"},
    "encoding": {"x": {"field": "t0", "type": "quantitative", "axis": null}, "x2": {"field": "t1"}}},
   {"data": {"name": "txr"}, "mark": {"type": "text", "align": "left", "baseline": "middle", "fontSize": 5, "color": "#3a0000"},
    "encoding": {"x": {"field": "t", "type": "quantitative", "axis": null}, "text": {"field": "txt"}}}
  ]
 }
]
}
